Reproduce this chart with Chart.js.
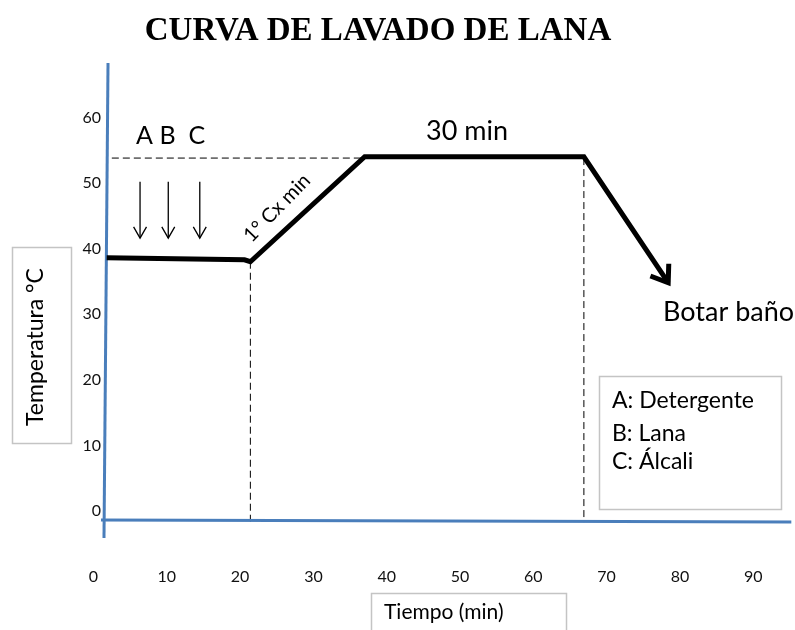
<!DOCTYPE html>
<html>
<head>
<meta charset="utf-8">
<script src="https://cdn.jsdelivr.net/npm/chart.js@4"></script>
<style>
  html, body { margin: 0; padding: 0; background: #fff; }
  canvas { display: block; }
</style>
</head>
<body>
<canvas id="curva" width="795" height="630"></canvas>
<script>
// ticks
const xTicks = [0, 10, 20, 30, 40, 50, 60, 70, 80, 90];
const yTicks = [0, 10, 20, 30, 40, 50, 60];

// temperatura del baño (min, °C)
const curvaX = [1.8, 20.6, 21.4, 37.0, 66.9, 78.4];
const curvaY = [38.6, 38.3, 38.0, 54.0, 54.0, 34.8];

// líneas de referencia punteadas
const nivelX = [2.5, 37.0];
const nivelY = [53.8, 53.8];
const corte1X = [21.4, 21.4];
const corte1Y = [38.0, -1.7];
const corte2X = [66.9, 66.9];
const corte2Y = [53.8, -1.7];

// ejes dibujados a mano
const ejeYX = [1.98, 1.43];
const ejeYY = [68.3, -4.1];
const ejeXX = [1.02, 95.2];
const ejeXY = [-1.37, -1.68];

// adición de productos
const adicionX = [6.35, 10.2, 14.5];
const adicionLetraX = [6.95, 10.1, 14.1];
const adicionLetras = ['A', 'B', 'C'];
const adicionArriba = 50.2;
const adicionAbajo = 41.6;
const leyenda = ['A: Detergente', 'B: Lana', 'C: Álcali'];

const pts = (xs, ys) => xs.map((x, i) => ({ x, y: ys[i] }));
const SANS = 'Lato, "Open Sans", sans-serif';

function flecha(ctx, x0, y0, x1, y1, largo, ang) {
    const a = Math.atan2(y1 - y0, x1 - x0);
    ctx.beginPath();
    ctx.moveTo(x1 - largo * Math.cos(a - ang), y1 - largo * Math.sin(a - ang));
    ctx.lineTo(x1, y1);
    ctx.lineTo(x1 - largo * Math.cos(a + ang), y1 - largo * Math.sin(a + ang));
    ctx.stroke();
}

const anotaciones = {
    id: 'anotaciones',
    afterDraw(chart) {
        const { ctx, scales: { x, y } } = chart;
        ctx.save();
        ctx.fillStyle = '#000';
        ctx.strokeStyle = '#000';

        // título
        ctx.font = 'bold 33px "Liberation Serif", "Times New Roman", serif';
        ctx.textAlign = 'center';
        ctx.textBaseline = 'middle';
        ctx.fillText('CURVA DE LAVADO DE LANA', 378, 31);

        // flechas A B C
        ctx.lineWidth = 1.3;
        adicionX.forEach(v => {
            const px = x.getPixelForValue(v);
            const top = y.getPixelForValue(adicionArriba);
            const bot = y.getPixelForValue(adicionAbajo);
            ctx.beginPath();
            ctx.moveTo(px, top);
            ctx.lineTo(px, bot);
            ctx.stroke();
            flecha(ctx, px, top, px, bot, 13, 0.52);
        });
        ctx.font = '25px ' + SANS;
        adicionLetras.forEach((t, i) => {
            ctx.fillText(t, x.getPixelForValue(adicionLetraX[i]), 136);
        });

        // punta de flecha de la descarga
        const n = curvaX.length;
        ctx.lineWidth = 5;
        ctx.lineJoin = 'miter';
        flecha(ctx,
            x.getPixelForValue(curvaX[n - 2]), y.getPixelForValue(curvaY[n - 2]),
            x.getPixelForValue(curvaX[n - 1]), y.getPixelForValue(curvaY[n - 1]),
            19, 0.62);

        // textos del proceso
        ctx.font = '27px ' + SANS;
        ctx.fillText('30 min', 467, 131);
        ctx.textAlign = 'left';
        ctx.fillText('Botar baño', 663, 312);

        ctx.save();
        ctx.translate(277, 208);
        ctx.rotate(-46 * Math.PI / 180);
        ctx.font = '20px ' + SANS;
        ctx.textAlign = 'center';
        ctx.fillText('1° Cx min', 0, 0);
        ctx.restore();

        // recuadros
        ctx.strokeStyle = '#c4c4c4';
        ctx.lineWidth = 1.5;
        ctx.strokeRect(599.5, 376.5, 182, 133);
        ctx.strokeRect(12.5, 247.5, 59, 196);
        ctx.strokeRect(371.5, 593.5, 195, 40);

        ctx.fillStyle = '#000';
        ctx.font = '23px ' + SANS;
        ctx.textAlign = 'left';
        [401, 434, 462].forEach((ty, i) => ctx.fillText(leyenda[i], 612, ty));

        ctx.font = '21px ' + SANS;
        ctx.fillText('Tiempo (min)', 384, 612);

        ctx.save();
        ctx.translate(36, 347);
        ctx.rotate(-Math.PI / 2);
        ctx.textAlign = 'center';
        ctx.font = '23px ' + SANS;
        ctx.fillText('Temperatura °C', 0, 0);
        ctx.restore();

        ctx.restore();
    }
};

const trazo = { showLine: true, pointRadius: 0, fill: false, tension: 0 };
const punteada = { ...trazo, borderColor: '#000', borderWidth: 1, borderDash: [7, 4], order: 3 };
const azul = { ...trazo, borderColor: '#4a7ebb', borderWidth: 3, order: 2 };

new Chart(document.getElementById('curva'), {
    type: 'scatter',
    data: {
        datasets: [
            {
                ...trazo,
                data: pts(curvaX, curvaY),
                borderColor: '#000',
                borderWidth: 5,
                borderJoinStyle: 'miter',
                order: 1,
            },
            { ...punteada, data: pts(nivelX, nivelY) },
            { ...punteada, data: pts(corte1X, corte1Y) },
            { ...punteada, data: pts(corte2X, corte2Y) },
            { ...azul, data: pts(ejeYX, ejeYY) },
            { ...azul, data: pts(ejeXX, ejeXY) },
        ],
    },
    options: {
        responsive: false,
        animation: false,
        clip: false,
        layout: { padding: { top: 51.8, left: 0, right: 0, bottom: 0 } },
        plugins: {
            legend: { display: false },
            tooltip: { enabled: false },
        },
        scales: {
            x: {
                type: 'linear',
                min: 0,
                max: 95.7,
                grid: { display: false, drawTicks: false },
                border: { display: false },
                afterBuildTicks: s => { s.ticks = xTicks.map(value => ({ value })); },
                afterFit: s => { s.height = 66.5; },
                ticks: {
                    padding: 4,
                    color: '#111',
                    font: { family: SANS, size: 16 },
                },
            },
            y: {
                type: 'linear',
                min: -8,
                max: 70,
                grid: { display: false, drawTicks: false },
                border: { display: false },
                afterBuildTicks: s => { s.ticks = yTicks.map(value => ({ value })); },
                afterFit: s => { s.width = 93.5; },
                ticks: {
                    // mirror evita el recorte; con 'far' las etiquetas quedan alineadas a la derecha
                    mirror: true,
                    crossAlign: 'far',
                    padding: -11,
                    color: '#111',
                    font: { family: SANS, size: 16 },
                },
            },
        },
    },
    plugins: [anotaciones],
});
</script>
</body>
</html>
